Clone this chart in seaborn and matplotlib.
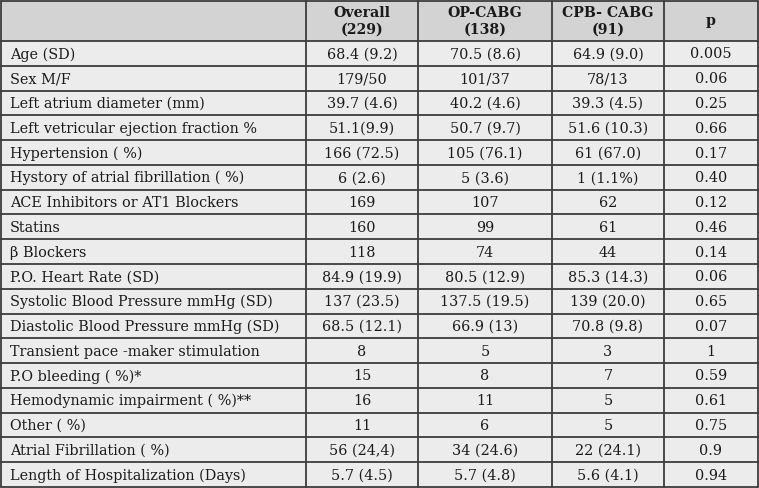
import matplotlib.pyplot as plt
import seaborn as sns
from matplotlib.patches import Rectangle

# table content
headers = ["", "Overall\n(229)", "OP-CABG\n(138)", "CPB- CABG\n(91)", "p"]
row_labels = [
    "Age (SD)", "Sex M/F", "Left atrium diameter (mm)",
    "Left vetricular ejection fraction %", "Hypertension ( %)",
    "Hystory of atrial fibrillation ( %)", "ACE Inhibitors or AT1 Blockers",
    "Statins", "β Blockers", "P.O. Heart Rate (SD)",
    "Systolic Blood Pressure mmHg (SD)", "Diastolic Blood Pressure mmHg (SD)",
    "Transient pace -maker stimulation", "P.O bleeding ( %)*",
    "Hemodynamic impairment ( %)**", "Other ( %)", "Atrial Fibrillation ( %)",
    "Length of Hospitalization (Days)",
]
overall = ["68.4 (9.2)", "179/50", "39.7 (4.6)", "51.1(9.9)", "166 (72.5)",
           "6 (2.6)", "169", "160", "118", "84.9 (19.9)", "137 (23.5)",
           "68.5 (12.1)", "8", "15", "16", "11", "56 (24,4)", "5.7 (4.5)"]
op_cabg = ["70.5 (8.6)", "101/37", "40.2 (4.6)", "50.7 (9.7)", "105 (76.1)",
           "5 (3.6)", "107", "99", "74", "80.5 (12.9)", "137.5 (19.5)",
           "66.9 (13)", "5", "8", "11", "6", "34 (24.6)", "5.7 (4.8)"]
cpb_cabg = ["64.9 (9.0)", "78/13", "39.3 (4.5)", "51.6 (10.3)", "61 (67.0)",
            "1 (1.1%)", "62", "61", "44", "85.3 (14.3)", "139 (20.0)",
            "70.8 (9.8)", "3", "7", "5", "5", "22 (24.1)", "5.6 (4.1)"]
p_values = ["0.005", "0.06", "0.25", "0.66", "0.17", "0.40", "0.12", "0.46",
            "0.14", "0.06", "0.65", "0.07", "1", "0.59", "0.61", "0.75", "0.9",
            "0.94"]

sns.set_style("white")
plt.rcParams['font.family'] = ['DejaVu Serif']

W, H = 759, 488
fig = plt.figure(figsize=(W / 100, H / 100), dpi=100)
ax = fig.add_axes([0, 0, 1, 1])
ax.set_xlim(0, W)
ax.set_ylim(H, 0)
ax.axis("off")

col_edges = [1, 306, 418, 552, 664, 758]
header_h = 41
n_rows = len(row_labels)
row_h = (487 - header_h) / n_rows
line_col = "#3c3c3c"

# backgrounds
ax.add_patch(Rectangle((col_edges[0], 1), col_edges[-1] - col_edges[0], header_h - 1,
                       facecolor="#d3d3d3", edgecolor="none"))
ax.add_patch(Rectangle((col_edges[0], header_h), col_edges[-1] - col_edges[0],
                       row_h * n_rows, facecolor="#ececec", edgecolor="none"))

# grid lines
for x in col_edges:
    ax.plot([x, x], [1, 487], color=line_col, lw=1.3)
ax.plot([col_edges[0], col_edges[-1]], [1, 1], color=line_col, lw=1.3)
for i in range(n_rows + 1):
    y = header_h + i * row_h
    ax.plot([col_edges[0], col_edges[-1]], [y, y], color=line_col, lw=1.3)

fs = 10.4
# header
for j, h in enumerate(headers):
    if not h:
        continue
    xc = (col_edges[j] + col_edges[j + 1]) / 2
    ax.text(xc, header_h / 2 + 1, h, ha="center", va="center", fontsize=10.2,
            fontweight="bold", color="#1a1a1a", linespacing=1.2)

# body
columns = [overall, op_cabg, cpb_cabg, p_values]
for i in range(n_rows):
    yc = header_h + (i + 0.5) * row_h + 1
    ax.text(col_edges[0] + 9, yc, row_labels[i], ha="left", va="center",
            fontsize=fs, color="#1a1a1a")
    for j, col in enumerate(columns):
        xc = (col_edges[j + 1] + col_edges[j + 2]) / 2
        ax.text(xc, yc, col[i], ha="center", va="center", fontsize=fs,
                color="#1a1a1a")

fig.savefig("out.png", dpi=100)
